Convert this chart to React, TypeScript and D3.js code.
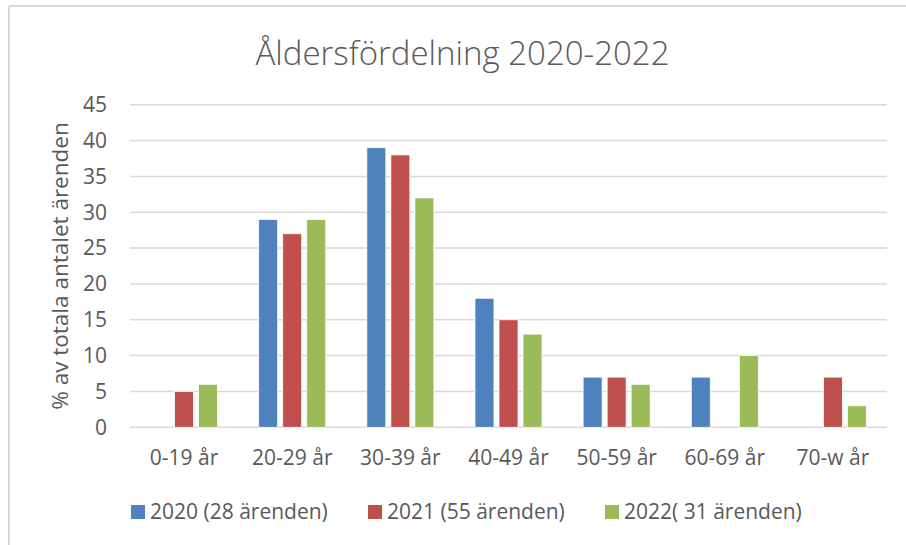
import React from "react";
import * as d3 from "d3";

const categories = ["0-19 år", "20-29 år", "30-39 år", "40-49 år", "50-59 år", "60-69 år", "70-w år"];
const seriesNames = ["2020 (28 ärenden)", "2021 (55 ärenden)", "2022( 31 ärenden)"];
const values2020 = [0, 29, 39, 18, 7, 7, 0];
const values2021 = [5, 27, 38, 15, 7, 0, 7];
const values2022 = [6, 29, 32, 13, 6, 10, 3];
const seriesValues = [values2020, values2021, values2022];
const colors = ["#4F81BD", "#C0504D", "#9BBB59"];
const yTicks = [0, 5, 10, 15, 20, 25, 30, 35, 40, 45];
const title = "Åldersfördelning 2020-2022";
const yLabel = "% av totala antalet ärenden";

const W = 906;
const H = 545;
const FONT = "'Open Sans', 'DejaVu Sans', sans-serif";
const TEXT = "#595959";

export default function App() {
  const left = 130, right = 887, top = 104.7, bottom = 427.3;
  const x0 = d3.scaleBand<string>().domain(categories).range([left, right]).paddingInner(0.38).paddingOuter(0.19);
  const x1 = d3.scaleBand<string>().domain(seriesNames).range([0, x0.bandwidth()]).paddingInner(5 / 24);
  const y = d3.scaleLinear().domain([0, 45]).range([bottom, top]);

  const legendX = [131, 368, 605];

  return (
    <svg width={W} height={H} style={{ position: "absolute", left: 0, top: 0, background: "#fff" }}>
      <rect x={0} y={0} width={W} height={H} fill="#fff" />
      <line x1={9} y1={6} x2={W} y2={6} stroke="#D9D9D9" strokeWidth={2} />
      <line x1={9} y1={6} x2={9} y2={H} stroke="#D9D9D9" strokeWidth={2} />
      <text x={462.5} y={65} textAnchor="middle" fontFamily={FONT} fontSize={33} fontWeight={300} fill={TEXT}>
        {title}
      </text>
      {yTicks.map((t) => (
        <g key={t}>
          <line x1={left} x2={right} y1={y(t)} y2={y(t)} stroke="#D9D9D9" strokeWidth={1.5} />
          <text x={107} y={y(t)} dy="0.35em" textAnchor="end" fontFamily={FONT} fontSize={21} fill={TEXT}>
            {t}
          </text>
        </g>
      ))}
      <text
        transform={`translate(60, ${(top + bottom) / 2}) rotate(-90)`}
        textAnchor="middle"
        dy="0.35em"
        fontFamily={FONT}
        fontSize={22.5}
        fill={TEXT}
      >
        {yLabel}
      </text>
      {categories.map((c, ci) => (
        <g key={c} transform={`translate(${x0(c)},0)`}>
          {seriesNames.map((s, si) => {
            const v = seriesValues[si][ci];
            if (!v) return null;
            return (
              <rect
                key={s}
                x={x1(s)}
                y={y(v)}
                width={x1.bandwidth()}
                height={y(0) - y(v)}
                fill={colors[si]}
                stroke="#fff"
                strokeWidth={0.8}
              />
            );
          })}
          <text x={x0.bandwidth() / 2} y={465} textAnchor="middle" fontFamily={FONT} fontSize={21} fill={TEXT}>
            {c}
          </text>
        </g>
      ))}
      {seriesNames.map((s, si) => (
        <g key={s} transform={`translate(${legendX[si]},0)`}>
          <rect x={0} y={505} width={14} height={14} fill={colors[si]} />
          <text x={19} y={512} dy="0.35em" fontFamily={FONT} fontSize={21} fill={TEXT}>
            {s}
          </text>
        </g>
      ))}
    </svg>
  );
}
